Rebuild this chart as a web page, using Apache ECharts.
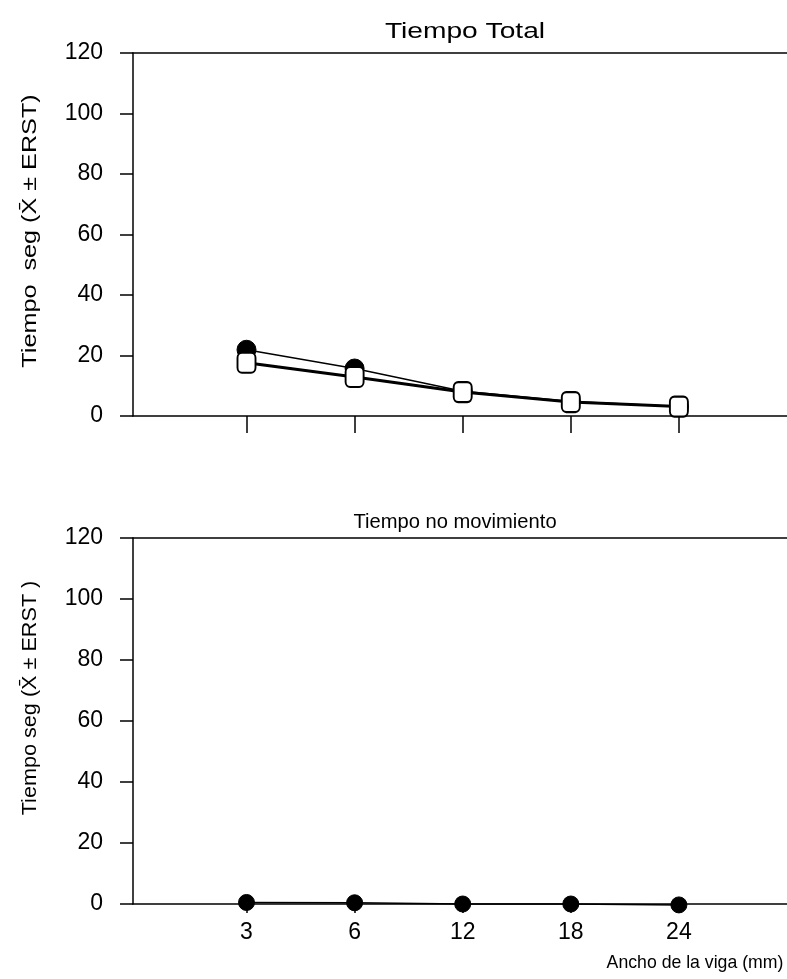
<!DOCTYPE html>
<html>
<head>
<meta charset="utf-8">
<script src="https://cdn.jsdelivr.net/npm/echarts@6/dist/echarts.min.js"></script>
<style>
  html, body { margin: 0; padding: 0; background: #fff; }
  #chart { width: 787px; height: 979px; }
</style>
</head>
<body>
<div id="chart"></div>
<script>
// Beam widths (mm) on the horizontal axis
const categories = ['3', '6', '12', '18', '24'];
// Y-axis tick labels shared by both panels
const yTicks = [0, 20, 40, 60, 80, 100, 120];

// Upper panel: total time (s)
const totalCircle = [21.9, 15.7, 8.2, 4.8, 3.1];
const totalSquare = [17.6, 12.9, 7.9, 4.6, 3.1];

// Lower panel: time without movement (s)
const stillCircle = [0.5, 0.4, 0, 0, -0.3];

const font = 'Liberation Sans, Arial, sans-serif';
const pos = categories.map((c, i) => i + 1);
const pair = arr => arr.map((v, i) => [i + 1, v]);
const black = { color: '#000', width: 1.5 };

function xAxisFor(gridIndex, showLabels, tickLen) {
  return {
    type: 'value', gridIndex, min: -0.05, max: 6,
    axisLine: { show: true, onZero: false, lineStyle: black },
    axisTick: { show: true, inside: false, length: tickLen, customValues: pos, lineStyle: black },
    axisLabel: {
      show: showLabels, customValues: pos, margin: 17,
      color: '#000', fontFamily: font, fontSize: 23,
      formatter: v => categories[Math.round(v) - 1] || ''
    },
    splitLine: { show: false }
  };
}
function topLine(gridIndex) {
  return {
    type: 'value', gridIndex, position: 'top', min: -0.05, max: 6,
    axisLine: { show: true, onZero: false, lineStyle: black },
    axisTick: { show: false }, axisLabel: { show: false }, splitLine: { show: false }
  };
}
function yAxisFor(gridIndex) {
  return {
    type: 'value', gridIndex, min: yTicks[0], max: yTicks[yTicks.length - 1], interval: 20,
    axisLine: { show: true, onZero: false, lineStyle: black },
    axisTick: { show: true, length: 13, lineStyle: black },
    axisLabel: { color: '#000', fontFamily: font, fontSize: 23, margin: 30 },
    splitLine: { show: false }
  };
}
function label(text, x, y, size, scaleX, rotation) {
  return {
    type: 'text', x, y, rotation: rotation || 0, scaleX, silent: true,
    style: { text, fill: '#000', font: size + 'px ' + font, align: 'center', verticalAlign: 'middle' }
  };
}

const chart = echarts.init(document.getElementById('chart'));
chart.setOption({
  backgroundColor: '#fff',
  animation: false,
  graphic: [
    label('Tiempo Total', 465, 32, 22, 1.28),
    label('Tiempo no movimiento', 455, 522, 21, 0.96),
    label('Ancho de la viga (mm)', 695, 963, 19, 0.93),
    label('Tiempo  seg (X\u0304 \u00B1 ERST)', 30, 231, 21, 1.2, Math.PI / 2),
    label('Tiempo seg (X\u0304 \u00B1 ERST )', 30, 698, 21, 1.03, Math.PI / 2)
  ],
  grid: [
    { left: 133, top: 53, width: 659, height: 363 },
    { left: 133, top: 538, width: 659, height: 366 }
  ],
  xAxis: [xAxisFor(0, false, 17), topLine(0), xAxisFor(1, true, 9), topLine(1)],
  yAxis: [yAxisFor(0), yAxisFor(1)],
  series: [
    {
      type: 'line', xAxisIndex: 0, yAxisIndex: 0, data: pair(totalCircle),
      symbol: 'circle', symbolSize: 19, z: 2,
      lineStyle: { color: '#000', width: 1.5 },
      itemStyle: { color: '#000', borderColor: '#000', borderWidth: 1 }
    },
    {
      type: 'line', xAxisIndex: 0, yAxisIndex: 0, data: pair(totalSquare),
      symbol: 'roundRect', symbolSize: [18, 20], z: 3,
      lineStyle: { color: '#000', width: 3 },
      itemStyle: { color: '#fff', borderColor: '#000', borderWidth: 2 }
    },
    {
      type: 'line', xAxisIndex: 2, yAxisIndex: 1, data: pair(stillCircle),
      symbol: 'circle', symbolSize: 16, clip: false,
      lineStyle: { color: '#000', width: 1.5 },
      itemStyle: { color: '#000', borderColor: '#000', borderWidth: 1 }
    }
  ]
});
</script>
</body>
</html>
